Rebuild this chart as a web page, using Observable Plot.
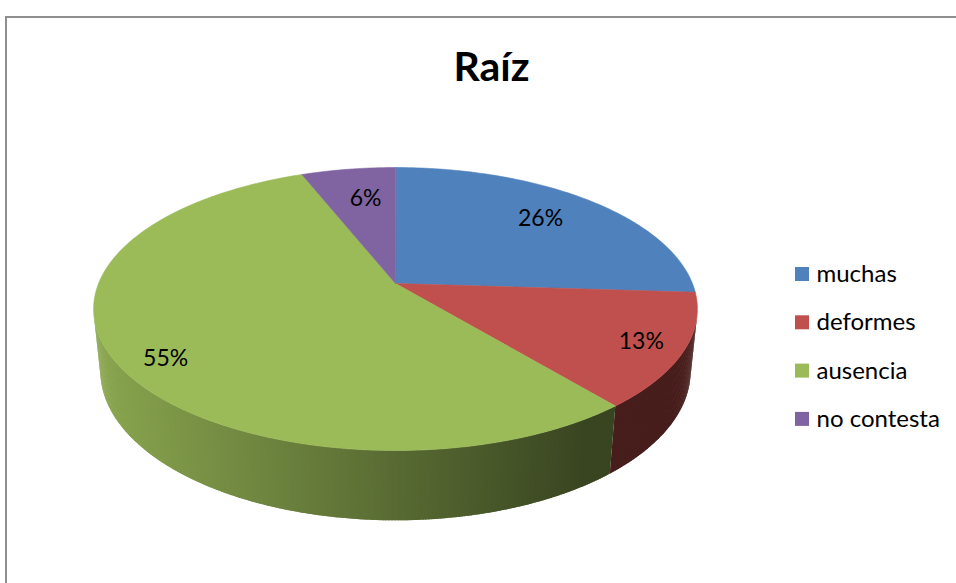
<!DOCTYPE html>
<html>
<head>
<meta charset="utf-8">
<script src="https://cdn.jsdelivr.net/npm/d3@7"></script>
<script src="https://cdn.jsdelivr.net/npm/@observablehq/plot@0.6"></script>
<style>
  html, body { margin: 0; padding: 0; background: #ffffff; overflow: hidden; }
  #wrap { position: relative; width: 956px; height: 583px; }
  #frame { position: absolute; left: 5px; top: 16px; width: 1000px; height: 1000px;
           border-left: 2px solid #8f8f8f; border-top: 2px solid #8f8f8f; pointer-events: none; }
</style>
</head>
<body>
<div id="wrap"><div id="frame"></div></div>
<script>
// ---- data ----
const title = "Raíz";
const categories = ["muchas", "deformes", "ausencia", "no contesta"];
const values = [26, 13, 55, 6];
const colors = ["#4F81BD", "#C0504D", "#9BBB59", "#8064A2"];

// ---- layout (3D perspective projection of the pie) ----
const P = {cx: 395, cy: 283, k: 1461, dist: 4.92, sa: 0.461, ca: 0.8875, H: 0.237};
const deg = Math.PI / 180;
function proj(theta, r, h) {
  const X = r * Math.sin(theta), n = r * Math.cos(theta);
  const u = n * P.sa + h * P.ca;
  const w = P.dist + n * P.ca - h * P.sa;
  return [P.cx + P.k * X / w, P.cy - P.k * u / w];
}
// label placement in pie space: radius and angle nudge (degrees) per slice
const labelR = [0.745, 0.865, 0.863, 0.708];
const labelDA = [-1, 0.3, -4.7, 1.6];

const arcs = d3.pie().sort(null).value(d => d)(values);

// top faces
const tops = [];
arcs.forEach((a, i) => {
  const n = Math.max(2, Math.ceil((a.endAngle - a.startAngle) / deg));
  tops.push({id: "t" + i, x: P.cx, y: P.cy, fill: colors[i]});
  for (let j = 0; j <= n; j++) {
    const t = a.startAngle + (a.endAngle - a.startAngle) * j / n;
    const [x, y] = proj(t, 1, 0);
    tops.push({id: "t" + i, x, y, fill: colors[i]});
  }
});

// side walls (visible front part only), shaded by overlapping strips
const ts = Math.acos(-1 / (P.dist * P.ca));
const walls = [];
arcs.forEach((a, i) => {
  const lo = Math.max(a.startAngle, ts), hi = Math.min(a.endAngle, 2 * Math.PI - ts);
  if (lo >= hi) return;
  const step = 0.5 * deg;
  const n = Math.max(1, Math.ceil((hi - lo) / step));
  const base = d3.rgb(colors[i]);
  for (let j = 0; j < n; j++) {
    const t0 = lo + (hi - lo) * j / n;
    const t1 = j === n - 1 ? hi : lo + (hi - lo) * (j + 1.8) / n;
    const p0 = proj(t0, 1, 0), p1 = proj(t1, 1, 0);
    const q1 = proj(t1, 1, -P.H), q0 = proj(t0, 1, -P.H);
    const xm = proj(lo + (hi - lo) * (j + 0.5) / n, 1, 0)[0];
    const f = Math.max(0.37, Math.min(0.9, 0.57 - 0.00105 * (xm - P.cx)));
    const c = d3.rgb(base.r * f, base.g * f, base.b * f).formatHex();
    const id = "w" + i + "_" + j;
    for (const p of [p0, p1, q1, q0]) walls.push({id, x: p[0], y: p[1], fill: c});
  }
});

// slice labels
const labelData = arcs.map((a, i) => {
  const t = (a.startAngle + a.endAngle) / 2 + labelDA[i] * deg;
  const [x, y] = proj(t, labelR[i], 0);
  return {x, y, text: values[i] + "%"};
});

// legend
const legend = categories.map((c, i) => ({
  name: c, color: colors[i], y: 274 + i * 48.3
}));

const chart = Plot.plot({
  width: 956, height: 583, margin: 0,
  x: {domain: [0, 956], range: [0, 956], axis: null},
  y: {domain: [0, 583], range: [0, 583], axis: null},
  color: {type: "identity"},
  style: {fontFamily: "Lato, 'Open Sans', sans-serif", background: "transparent", overflow: "visible"},
  marks: [
    Plot.line(walls, {x: "x", y: "y", z: "id", fill: "fill", stroke: "none", curve: "linear-closed"}),
    Plot.line(tops, {x: "x", y: "y", z: "id", fill: "fill", stroke: "fill", strokeWidth: 0.6, curve: "linear-closed"}),
    Plot.text(labelData, {x: "x", y: "y", text: "text", fontSize: 23, fill: "#000", lineAnchor: "middle"}),
    Plot.text([title], {x: () => 491, y: () => 67, text: d => d, fontSize: 41, fontWeight: "bold", fill: "#000"}),
    Plot.rect(legend, {x1: () => 795, x2: () => 809, y1: d => d.y - 7, y2: d => d.y + 7, fill: "color"}),
    Plot.text(legend, {x: () => 816, y: "y", text: "name", textAnchor: "start", fontSize: 24, fill: "#000"})
  ]
});
chart.style.position = "absolute";
chart.style.left = "0px";
chart.style.top = "0px";
document.getElementById("wrap").prepend(chart);
</script>
</body>
</html>
